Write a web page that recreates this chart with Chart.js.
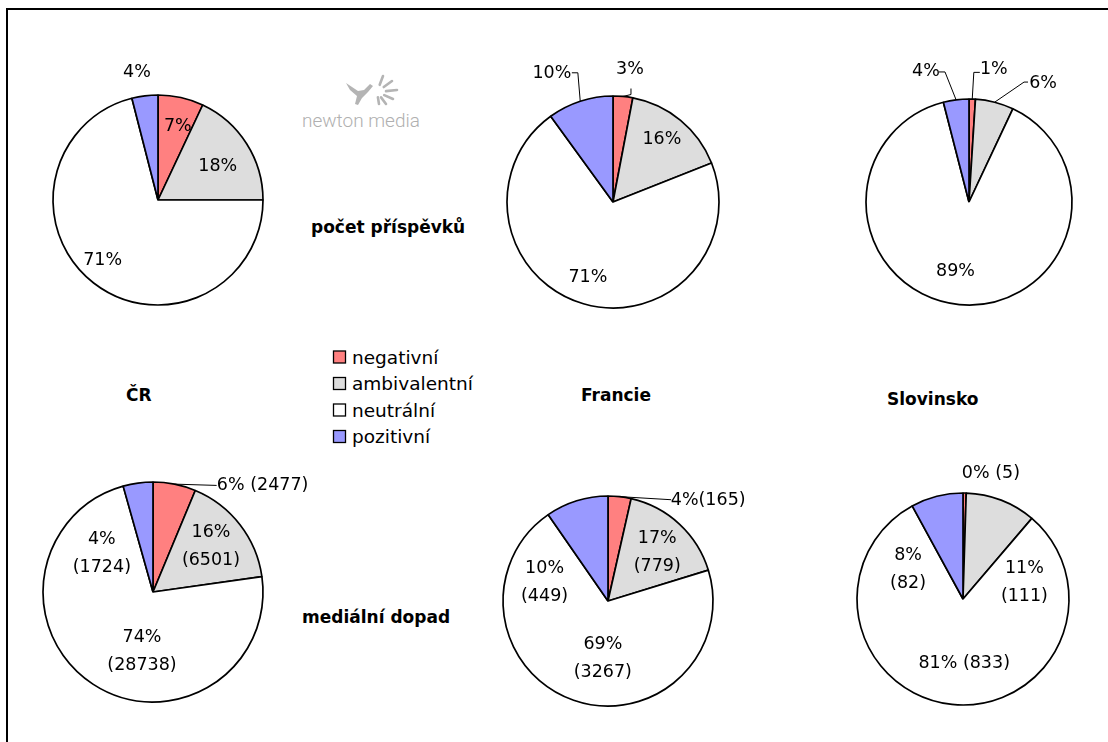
<!DOCTYPE html>
<html>
<head>
<meta charset="utf-8">
<script src="https://cdn.jsdelivr.net/npm/chart.js@4.4.1/dist/chart.umd.min.js"></script>
<style>
  html, body { margin:0; padding:0; background:#fff; }
  body { width:1108px; height:742px; overflow:hidden; position:relative; }
  #bg { position:absolute; left:0; top:0; z-index:0; }
  .pie { position:absolute; z-index:1; }
</style>
</head>
<body>
<svg id="bg" width="1108" height="742" xmlns="http://www.w3.org/2000/svg"></svg>
<script>
// ---------- data ----------
const categories = ['negativní', 'ambivalentní', 'neutrální', 'pozitivní'];
const countries = ['ČR', 'Francie', 'Slovinsko'];
const rowTitles = ['počet příspěvků', 'mediální dopad'];

// počet příspěvků (share in %)
const czCountPct = [7, 18, 71, 4];
const frCountPct = [3, 16, 71, 10];
const siCountPct = [1, 6, 89, 4];

// mediální dopad (absolute values and stated shares)
const czImpact = [2477, 6501, 28738, 1724];
const frImpact = [165, 779, 3267, 449];
const siImpact = [5, 111, 833, 82];
const czImpactPct = [6, 16, 74, 4];
const frImpactPct = [4, 17, 69, 10];
const siImpactPct = [0, 11, 81, 8];

// ---------- styles ----------
const sliceColors = ['#FF8080', '#DDDDDD', '#FFFFFF', '#9999FF'];
const LABEL_FONT = '17.5px "DejaVu Sans"';
const LINE_H = 28;

// ---------- background svg: frame, titles, legend, logo ----------
const NS = 'http://www.w3.org/2000/svg';
const svg = document.getElementById('bg');
function el(tag, attrs, text) {
  const e = document.createElementNS(NS, tag);
  for (const k in attrs) e.setAttribute(k, attrs[k]);
  if (text !== undefined) e.textContent = text;
  svg.appendChild(e);
  return e;
}
// frame (right and bottom edges lie outside the picture)
el('rect', {x:7, y:9, width:1300, height:1000, fill:'none', stroke:'#000', 'stroke-width':2});

const boldFont = {'font-family':'DejaVu Sans', 'font-weight':'bold', 'font-size':17, fill:'#000'};
el('text', Object.assign({x:311, y:233}, boldFont), rowTitles[0]);
el('text', Object.assign({x:302, y:623}, boldFont), rowTitles[1]);
el('text', Object.assign({x:126, y:401}, boldFont), countries[0]);
el('text', Object.assign({x:581, y:401}, boldFont), countries[1]);
el('text', Object.assign({x:887, y:405}, boldFont), countries[2]);

// legend
categories.forEach((c, i) => {
  const yc = 357 + i * 26.5;
  el('rect', {x:333.5, y:yc - 6, width:12, height:12, fill:sliceColors[i], stroke:'#000', 'stroke-width':1.3});
  el('text', {x:352, y:yc + 6.5, 'font-family':'DejaVu Sans', 'font-size':18.5, fill:'#000'}, c);
});

// logo
const g = '#b4b4b4';
el('path', {d:'M346,83 L358,91 L364,90 L370,84 L373,86 L368,92 L362,98 L358,105 L355,104 L357,96 L350,90 Z', fill:g});
[[383,76],[392,81],[397,90],[393,99],[386,104],[379,104]].forEach(p => {
  const cx = 377, cy = 92;
  const dx = p[0]-cx, dy = p[1]-cy;
  el('line', {x1:cx+dx*0.45, y1:cy+dy*0.45, x2:p[0], y2:p[1], stroke:g, 'stroke-width':2.6, 'stroke-linecap':'round'});
});
el('text', {x:302, y:127, 'font-family':'Roboto', 'font-weight':300, 'font-size':19, fill:'#b0b0b0'}, 'newton media');

// ---------- pies ----------
function makeLabelPlugin(texts, spec) {
  return {
    id: 'sliceLabels',
    afterDatasetsDraw(chart) {
      const ctx = chart.ctx;
      const meta = chart.getDatasetMeta(0);
      ctx.save();
      ctx.font = LABEL_FONT;
      ctx.fillStyle = '#000';
      ctx.strokeStyle = '#000';
      ctx.lineWidth = 1;
      ctx.textAlign = 'center';
      ctx.textBaseline = 'middle';
      meta.data.forEach((arc, i) => {
        const s = spec[i];
        const p = arc.getProps(['x', 'y', 'startAngle', 'endAngle', 'outerRadius'], true);
        const mid = (p.startAngle + p.endAngle) / 2;
        const a = mid + s.da * Math.PI / 180;
        const lx = p.x + Math.cos(a) * p.outerRadius * s.k;
        const ly = p.y + Math.sin(a) * p.outerRadius * s.k;
        if (s.lead) {
          ctx.beginPath();
          ctx.moveTo(p.x + Math.cos(mid) * p.outerRadius, p.y + Math.sin(mid) * p.outerRadius);
          s.lead.forEach(q => ctx.lineTo(lx + q[0], ly + q[1]));
          ctx.stroke();
        }
        const lines = texts[i];
        lines.forEach((t, j) => ctx.fillText(t, lx, ly + (j - (lines.length - 1) / 2) * LINE_H));
      });
      ctx.restore();
    }
  };
}

function makePie(cx, cy, r, values, texts, spec) {
  const W = 360, H = 300;
  const wrap = document.createElement('div');
  wrap.className = 'pie';
  wrap.style.left = (cx - W / 2) + 'px';
  wrap.style.top = (cy - H / 2) + 'px';
  const canvas = document.createElement('canvas');
  canvas.width = W; canvas.height = H;
  canvas.style.width = W + 'px'; canvas.style.height = H + 'px';
  wrap.appendChild(canvas);
  document.body.appendChild(wrap);
  new Chart(canvas, {
    type: 'pie',
    data: {
      labels: categories,
      datasets: [{ data: values, backgroundColor: sliceColors, borderColor: '#000', borderWidth: 1.7 }]
    },
    options: {
      responsive: false,
      animation: false,
      events: [],
      radius: r,
      layout: { padding: 0 },
      plugins: { legend: { display: false }, tooltip: { enabled: false } }
    },
    plugins: [makeLabelPlugin(texts, spec)]
  });
}

const pctTexts = arr => arr.map(v => [v + '%']);
const two = (p, n) => [p + '%', '(' + n + ')'];
const one = (p, n) => [p + '% (' + n + ')'];
const tight = (p, n) => [p + '%(' + n + ')'];

// top row
makePie(158, 200, 105, czCountPct, pctTexts(czCountPct), [
  {k:0.73, da:2.4}, {k:0.65, da:3.4}, {k:0.78, da:4.7}, {k:1.23, da:-2.2}
]);
makePie(613, 202, 106, frCountPct, pctTexts(frCountPct), [
  {k:1.26, da:1.9, lead:[[1,25],[1,19]]}, {k:0.75, da:-1.7}, {k:0.75, da:2.2},
  {k:1.34, da:-7.5, lead:[[26,-1],[20,-1]]}
]);
makePie(969, 202, 103, siCountPct, pctTexts(siCountPct), [
  {k:1.31, da:8.8, lead:[[-20,3],[-14,3]]}, {k:1.36, da:17.5, lead:[[-19,-1],[-15,-1]]},
  {k:0.69, da:5.6}, {k:1.33, da:-11.1, lead:[[19,0],[13,0]]}
]);

// bottom row
makePie(153, 592, 110, czImpact,
  [one(czImpactPct[0], czImpact[0]), two(czImpactPct[1], czImpact[1]), two(czImpactPct[2], czImpact[2]), two(czImpactPct[3], czImpact[3])],
  [{k:1.39, da:34.5, lead:[[-46,0]]}, {k:0.67, da:-0.4}, {k:0.55, da:-22.6}, {k:0.58, da:-45.4}]);
makePie(608, 601, 105, frImpact,
  [tight(frImpactPct[0], frImpact[0]), two(frImpactPct[1], frImpact[1]), two(frImpactPct[2], frImpact[2]), two(frImpactPct[3], frImpact[3])],
  [{k:1.35, da:38.6, lead:[[-37,-1]]}, {k:0.66, da:2.5}, {k:0.55, da:-14}, {k:0.63, da:-56.2}]);
makePie(963, 599, 106, siImpact,
  [one(siImpactPct[0], siImpact[0]), two(siImpactPct[1], siImpact[1]), one(siImpactPct[2], siImpact[2]), two(siImpactPct[3], siImpact[3])],
  [{k:1.21, da:11.7}, {k:0.60, da:53.8}, {k:0.61, da:-7}, {k:0.59, da:-47.1}]);
</script>
</body>
</html>
